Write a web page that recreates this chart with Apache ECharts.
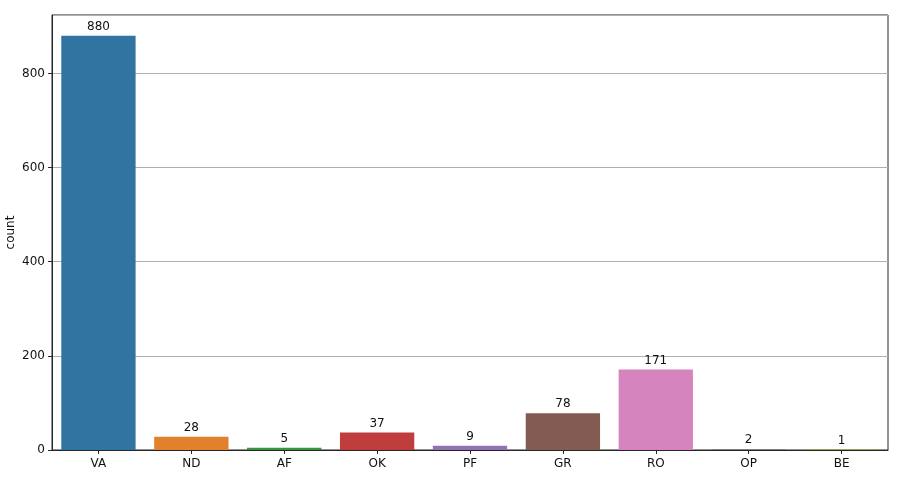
<!DOCTYPE html>
<html>
<head>
<meta charset="utf-8">
<script src="https://cdn.jsdelivr.net/npm/echarts@6/dist/echarts.min.js"></script>
<style>
  html, body { margin: 0; padding: 0; background: #fff; }
  #chart { width: 910px; height: 481px; }
</style>
</head>
<body>
<div id="chart"></div>
<script>
// 类别与计数
const categories = ['VA', 'ND', 'AF', 'OK', 'PF', 'GR', 'RO', 'OP', 'BE']
const counts = [880, 28, 5, 37, 9, 78, 171, 2, 1]
const yTicks = [0, 200, 400, 600, 800]
const barColors = ['#3274a1', '#e1812c', '#3a923a', '#c03d3e', '#9372b2',
                   '#845b53', '#d684bd', '#7f7f7f', '#a9aa35']

const chart = echarts.init(document.getElementById('chart'))
const font = 'DejaVu Sans'

chart.setOption({
    animation: false,
    textStyle: { fontFamily: font },
    grid: {
        left: 52,
        right: 22,
        top: 15,
        bottom: 31,
        show: true,
        borderColor: '#262626',
        borderWidth: 1,
        containLabel: false,
        outerBoundsMode: 'none'
    },
    xAxis: {
        type: 'category',
        data: categories,
        axisLine: { show: true, lineStyle: { color: '#262626' } },
        axisTick: { show: true, alignWithLabel: true, length: 4, lineStyle: { color: '#262626' } },
        axisLabel: { color: '#111', fontSize: 12, fontFamily: font, margin: 8 },
        splitLine: { show: false }
    },
    yAxis: {
        type: 'value',
        min: 0,
        max: 924,
        interval: 200,
        name: 'count',
        nameLocation: 'middle',
        nameGap: 35,
        nameMoveOverlap: false,
        nameTextStyle: { color: '#111', fontSize: 12, fontFamily: font },
        axisLine: { show: true, lineStyle: { color: '#262626' } },
        axisTick: { show: true, length: 4, lineStyle: { color: '#262626' } },
        axisLabel: {
            color: '#111', fontSize: 12, fontFamily: font, margin: 7,
            showMaxLabel: false,
            formatter: v => yTicks.includes(v) ? String(v) : ''
        },
        splitLine: { show: true, lineStyle: { color: '#b0b0b0', width: 1 } }
    },
    series: [{
        type: 'bar',
        barCategoryGap: '20%',
        data: counts.map((v, i) => ({ value: v, itemStyle: { color: barColors[i] } })),
        label: {
            show: true,
            position: 'top',
            distance: 3,
            color: '#111',
            fontSize: 12,
            fontFamily: font
        }
    }]
})
</script>
</body>
</html>
